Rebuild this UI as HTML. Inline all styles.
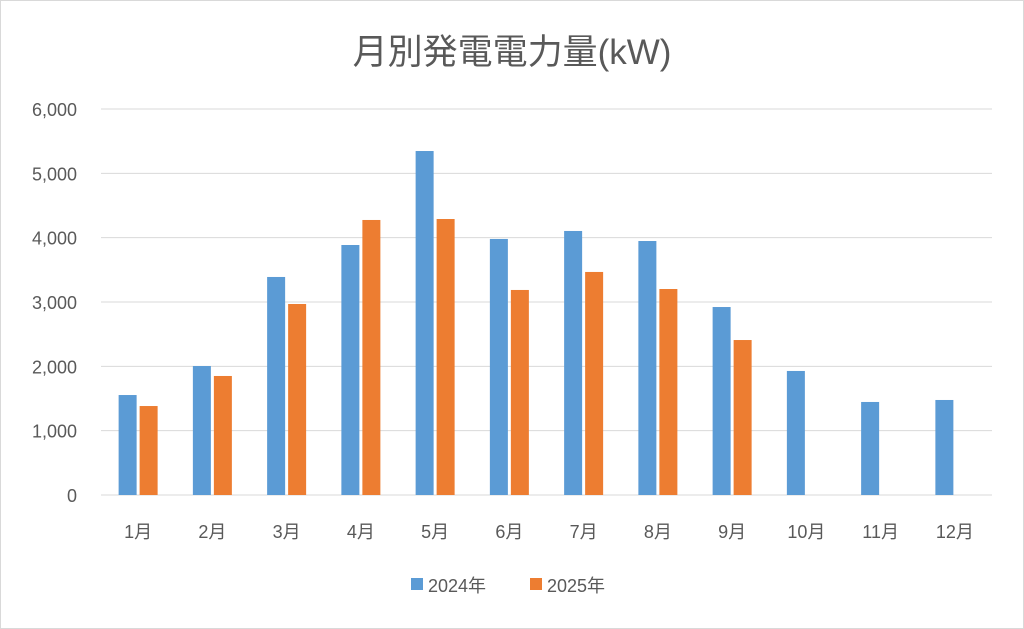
<!DOCTYPE html>
<html><head><meta charset="utf-8"><style>
html,body{margin:0;padding:0;background:#fff;}
svg{display:block;font-family:"Liberation Sans","Noto Sans CJK JP",sans-serif;}
</style></head><body>
<svg id="chart" width="1024" height="629" viewBox="0 0 1024 629">
<rect x="0.5" y="0.5" width="1023" height="628" fill="#fff" stroke="#d9d9d9"/>
<text x="512" y="64" text-anchor="middle" font-size="35" fill="#595959">月別発電電力量(kW)</text>
<g id="grid"></g><g id="bars"></g><g id="labels"></g>
<g>
<rect x="411" y="578" width="12" height="12" fill="#5b9bd5"/>
<text x="428" y="592" font-size="18" fill="#595959">2024年</text>
<rect x="530" y="578" width="12" height="12" fill="#ed7d31"/>
<text x="547" y="592" font-size="18" fill="#595959">2025年</text>
</g>
</svg>
<script>
const categories=["1月","2月","3月","4月","5月","6月","7月","8月","9月","10月","11月","12月"];
const series2024=[1554,2005,3389,3886,5347,3980,4104,3948,2922,1928,1446,1477];
const series2025=[1383,1850,2969,4275,4290,3187,3467,3202,2409,null,null,null];
const yTicks=[0,1000,2000,3000,4000,5000,6000];
const yTickLabels=["0","1,000","2,000","3,000","4,000","5,000","6,000"];
const NS="http://www.w3.org/2000/svg";
const x0=101,x1=992,y0=495,y1=109,yMax=6000;
const band=(x1-x0)/categories.length;
const y=v=>y0-(v/yMax)*(y0-y1);
const bx=i=>x0+band*i+band/2;
function mk(tag,attrs,parent,txt){const e=document.createElementNS(NS,tag);for(const k in attrs)e.setAttribute(k,attrs[k]);if(txt!=null)e.textContent=txt;parent.appendChild(e);return e;}
const grid=document.getElementById('grid'),bars=document.getElementById('bars'),labels=document.getElementById('labels');
yTicks.forEach((t,i)=>{
 const l=mk('line',{x1:x0,x2:x1,y1:y(t),y2:y(t),stroke:'#d9d9d9','stroke-width':1},grid);
 
 
 const tx=mk('text',{x:77,y:y(t)+7,'text-anchor':'end','font-size':18,fill:'#595959'},labels,yTickLabels[i]);
 
 
});
const bw=18,gap=3;
categories.forEach((c,i)=>{
 const cx=bx(i);
 const v1=series2024[i];
 if(v1!=null){const r=mk('rect',{x:cx-gap/2-bw,y:y(v1),width:bw,height:y0-y(v1),fill:'#5b9bd5'},bars);
  
  }
 const v2=series2025[i];
 if(v2!=null){const r=mk('rect',{x:cx+gap/2,y:y(v2),width:bw,height:y0-y(v2),fill:'#ed7d31'},bars);
  
  }
 const t=mk('text',{x:cx,y:538,'text-anchor':'middle','font-size':18,fill:'#595959'},labels,c);
 
 
});
</script>
</body></html>
